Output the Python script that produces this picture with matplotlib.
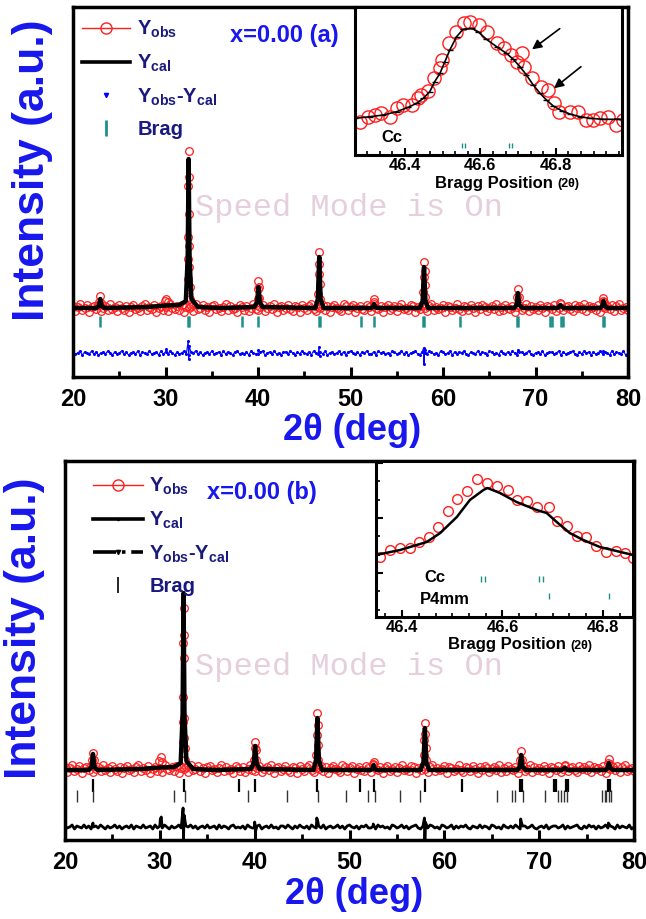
import numpy as np
import matplotlib
matplotlib.use("Agg")
import matplotlib.pyplot as plt
from matplotlib.lines import Line2D
from matplotlib.ticker import MultipleLocator, FixedLocator

plt.rcParams['font.family'] = ['Liberation Sans', 'DejaVu Sans']
plt.rcParams['font.weight'] = 'bold'
plt.rcParams['mathtext.fontset'] = 'custom'
plt.rcParams['mathtext.bf'] = 'Liberation Sans:bold'
plt.rcParams['mathtext.rm'] = 'Liberation Sans:bold'
plt.rcParams['mathtext.it'] = 'Liberation Sans:bold'

# ---------------- data ----------------
x_ticks = [20, 30, 40, 50, 60, 70, 80]
inset_ticks = [46.4, 46.6, 46.8]

# observed background scatter (deviation from background, 0.25 deg steps 20..80)
obs_noise = [2,-3,1,4,-2,0,3,-4,1,2,-1,3,-3,0,2,-2,4,-1,1,-3,
             3,0,-2,2,-4,1,3,-1,0,-3,2,4,-2,1,-1,3,-4,0,2,-2,
             1,-3,4,0,-1,2,-2,3,-4,1,0,2,-3,4,-1,0,3,-2,1,-4,
             2,3,-1,0,-3,1,4,-2,2,-1,0,-4,3,1,-2,2,-3,0,4,-1,
             -2,1,3,-3,0,2,-1,4,-4,1,2,-2,0,3,-1,-3,2,1,-4,3,
             0,-2,2,4,-1,-3,1,0,3,-2,2,-4,1,3,0,-1,-3,4,2,-2,
             1,3,-4,0,2,-1,-2,3,1,-3,4,0,-1,2,-4,1,3,-2,0,2,
             -3,1,4,-1,0,-2,3,2,-4,1,-1,3,0,-3,2,4,-2,1,-1,0,
             3,-4,2,1,-2,0,4,-1,-3,2,1,-2,3,0,-4,2,-1,3,1,-3,
             0,2,-1,4,-3,1,-2,3,0,-1,2,-4,1,3,-2,0,4,-3,2,-1,
             1,-2,3,0,-4,2,1,-1,3,-3,0,4,-2,1,2,-1,-3,3,0,2,
             -1,4,-3,2,0,1,-2,3,-4,1,0,2,-1,3,-3,2,4,-2,0,1,
             -2]
diff_noise = [1,-1,0,2,-2,1,0,-1,2,-1,1,-2,0,1,-1,2,0,-2,1,-1,
              0,2,-1,1,-2,0,1,-1,2,-2,1,0,-1,2,-1,0,1,-2,2,-1,
              1,-1,2,0,-2,1,-1,0,2,-1,-2,1,0,2,-1,1,-2,0,1,-1,
              2,-1,0,1,-2,2,-1,1,0,-2,1,2,-1,0,-1,1,-2,2,0,-1,
              -1,1,2,-2,0,1,-1,2,-1,0,-2,1,1,-1,2,0,-2,1,-1,2,
              0,-1,1,-2,2,0,-1,1,-1,2,-2,0,1,-1,0,2,-1,1,-2,1,
              2,0,-1,1,-2,1,0,2,-1,-1,1,-2,2,0,1,-1,0,-2,2,1,
              -1,0,2,-1,1,-2,0,1,2,-1,-2,1,0,-1,2,1,-1,0,-2,2,
              1,-1,0,2,-2,1,-1,1,0,2,-1,-2,1,0,-1,2,-1,1,0,-2,
              2,1,-1,0,-2,2,0,-1,1,-1,2,0,-2,1,1,-1,0,2,-1,-2,
              0,1,-1,2,-2,0,1,1,-1,0,2,-2,1,-1,0,1,2,-1,-2,1,
              -1,2,0,1,-2,1,-1,0,2,-1,1,0,-2,2,-1,1,0,-1,2,-2,
              0]

# ---- panel (a) ----
bkg_obs_a = 69
obs_pk_a_x = [22.85, 22.95, 23.05, 29.95, 30.1, 30.25,
              32.40, 32.42, 32.44, 32.46, 32.48, 32.50, 32.52, 32.54, 32.56, 32.58, 32.61, 32.66,
              39.95, 40.0, 40.05, 40.1, 40.15, 46.5, 46.55, 46.6, 46.64, 46.68, 46.72,
              52.5, 52.58, 57.85, 57.9, 57.95, 58.0, 58.05, 58.1, 67.98, 68.1, 68.2,
              72.7, 77.25, 77.35, 77.45]
obs_pk_a_y = [75, 81, 74, 76, 78, 75,
              80, 98, 118, 140, 191, 226, 200, 163, 131, 110, 90, 78,
              78, 88, 96, 90, 79, 83, 103, 125, 113, 93, 78,
              75, 78, 85, 100, 115, 106, 92, 80, 80, 88, 80,
              74, 76, 79, 75]
cal_a_x = [20, 22.5, 22.8, 22.95, 23.1, 23.4, 28, 30, 31.5, 32.2, 32.4, 32.5, 32.6, 32.8,
           33.5, 36, 39.6, 39.9, 40.05, 40.2, 40.5, 46.2, 46.47, 46.62, 46.77, 47.1,
           52.2, 52.45, 52.55, 52.65, 52.9, 57.5, 57.8, 57.95, 58.1, 58.4, 67.7, 67.95,
           68.1, 68.25, 68.6, 72.4, 72.7, 73.0, 77.0, 77.22, 77.35, 77.5, 77.8, 80]
cal_a_y = [69, 69, 71, 78, 71, 69, 70, 71.5, 72, 76, 120, 218, 120, 78,
           70, 69, 70, 75, 90, 75, 70, 69, 78, 120, 78, 69,
           69, 70, 73, 70, 69, 69, 76, 110, 76, 69, 69, 72,
           84, 72, 69, 69, 72, 69, 69, 71, 76, 71, 69, 69]
diff_base_a = 24
diff_spk_a_x = [30.1, 32.45, 32.5, 32.55, 40.05, 46.6, 46.65, 57.9, 57.95, 58.0, 68.1, 77.35]
diff_spk_a_y = [28, 36, 18, 31, 27, 30, 21, 29, 13, 27, 27, 26]
brag_a = [22.9, 32.45, 32.55, 38.3, 40.0, 46.55, 46.67, 51.1, 52.5, 57.85, 57.95, 61.85,
          67.95, 68.15, 71.6, 71.8, 72.8, 73.0, 77.25, 77.45]

# ---- panel (b) ----
bkg_obs_b = 71
obs_pk_b_x = [22.85, 22.95, 23.05, 29.95, 30.1, 30.25,
              32.40, 32.42, 32.44, 32.46, 32.48, 32.50, 32.52, 32.54, 32.56, 32.58, 32.61, 32.66,
              39.95, 40.0, 40.05, 40.1, 40.15, 46.5, 46.55, 46.6, 46.64, 46.68, 46.72,
              52.5, 52.58, 57.85, 57.9, 57.95, 58.0, 58.05, 58.1, 67.98, 68.1, 68.2,
              72.75, 77.25, 77.35, 77.45]
obs_pk_b_y = [80, 87, 80, 79, 83, 78,
              87, 98, 118, 143, 197, 232, 205, 182, 122, 102, 92, 80,
              80, 92, 98, 90, 80, 85, 105, 127, 115, 95, 80,
              76, 78, 85, 100, 117, 106, 92, 80, 80, 89, 80,
              74, 77, 81, 76]
cal_b_x = cal_a_x
cal_b_y = [70, 70, 73, 86, 73, 70, 71, 72.5, 73, 77, 125, 247, 125, 79,
           71, 70, 71, 77, 94, 77, 71, 70, 80, 122, 80, 70,
           70, 71, 75, 71, 70, 70, 78, 112, 78, 70, 70, 73,
           85, 73, 70, 70, 72, 70, 70, 72, 77, 72, 70, 70]
diff_base_b = 13
diff_spk_b_x = [22.95, 30.05, 30.15, 32.45, 32.5, 32.55, 40.0, 40.1, 46.55, 46.65,
                52.5, 57.9, 57.95, 58.0, 68.05, 68.15, 77.3]
diff_spk_b_y = [17, 21, 23, 32, 0, 25, 18, 9, 22, 19, 16, 22, 0, 18, 21, 17, 17]
brag_b_cc = [22.95, 32.55, 38.3, 40.0, 46.6, 51.1, 52.6, 57.95, 61.85, 68.0, 68.2,
             71.55, 71.75, 72.8, 73.0, 77.3, 77.5]
brag_b_p4 = [21.3, 22.9, 31.5, 32.65, 39.3, 43.4, 46.7, 49.6, 52.0, 52.7, 55.3, 57.4,
             65.6, 67.1, 67.5, 68.3, 70.6, 72.0, 72.3, 72.6, 72.9, 76.6, 76.9, 77.1, 77.4, 77.6]

# ---- inset (a) ----
ins_a_obs_x = [46.28, 46.302, 46.32, 46.338, 46.36, 46.378, 46.396, 46.418, 46.436, 46.444,
               46.462, 46.476, 46.493, 46.498, 46.516, 46.536, 46.556, 46.573, 46.596, 46.618,
               46.644, 46.662, 46.68, 46.698, 46.711, 46.716, 46.738, 46.76, 46.778, 46.796,
               46.809, 46.836, 46.858, 46.88, 46.898, 46.916, 46.938, 46.96, 46.978]
ins_a_obs_y = [33, 38, 40, 42, 38, 47, 50, 50, 57, 60,
               64, 77, 87, 95, 112, 123, 132, 133, 130, 123,
               112, 107, 100, 93, 102, 88, 77, 68, 65, 52,
               43, 43, 43, 35, 35, 37, 38, 30, 35]
ins_a_cal_x = [46.269, 46.307, 46.343, 46.378, 46.409, 46.431, 46.449, 46.466, 46.479, 46.493,
               46.506, 46.519, 46.537, 46.554, 46.577, 46.594, 46.616, 46.643, 46.669, 46.687,
               46.705, 46.722, 46.74, 46.758, 46.775, 46.793, 46.815, 46.837, 46.864, 46.89,
               46.925, 46.961, 46.983]
ins_a_cal_y = [36.7, 38.3, 40, 43.3, 47.7, 51.7, 56.7, 63.3, 73.3, 81.7,
               93.3, 105, 118.3, 125.7, 126.7, 123.3, 115.7, 108.3, 101.7, 95.7,
               88.3, 80, 70, 61.7, 55, 49, 44.3, 41, 38.3, 36.7,
               35.7, 35.7, 35.7]
ins_a_brag = [46.552, 46.560, 46.675, 46.683]

# ---- inset (b) ----
ins_b_obs_x = [46.355, 46.375, 46.395, 46.415, 46.434, 46.454, 46.472, 46.492, 46.510, 46.530,
               46.550, 46.570, 46.590, 46.610, 46.629, 46.649, 46.669, 46.693, 46.709, 46.728,
               46.748, 46.766, 46.786, 46.806, 46.826, 46.844, 46.860]
ins_b_obs_y = [60, 67, 69, 69, 75, 80, 90, 106, 118, 126,
               138, 134, 131, 127, 117, 116, 110, 110, 96, 91,
               81, 80, 71, 65, 66, 64, 59]
ins_b_cal_x = [46.348, 46.396, 46.449, 46.476, 46.509, 46.535, 46.562, 46.570, 46.595,
               46.628, 46.668, 46.688, 46.708, 46.734, 46.761, 46.794, 46.827, 46.860]
ins_b_cal_y = [62, 67, 75, 84, 100, 117, 127, 129, 124, 115, 107, 104, 95, 84, 77, 70, 66, 62]
ins_b_brag_cc = [46.557, 46.565, 46.672, 46.680]
ins_b_brag_p4 = [46.693, 46.812]

# ---------------- styling ----------------
W, H = 646, 919
RED = '#ff1e1e'
TEAL = '#1f8f8a'
NAVY = '#1a1a7e'
BLUE = '#1717ee'
WM = '#e6cfdc'


def px_rect(l, t, r, b):
    return [l / W, 1 - b / H, (r - l) / W, (b - t) / H]


fig = plt.figure(figsize=(W / 100, H / 100), dpi=100)


def style_main(ax, ylim):
    ax.set_xlim(20, 80)
    ax.set_ylim(*ylim)
    for s in ax.spines.values():
        s.set_linewidth(2.5)
    ax.xaxis.set_major_locator(FixedLocator(x_ticks))
    ax.xaxis.set_minor_locator(MultipleLocator(5))
    ax.tick_params(axis='x', which='major', direction='in', length=7, width=2.2,
                   pad=8, top=False, labelsize=17)
    ax.tick_params(axis='x', which='minor', direction='in', length=4, width=2, top=False)
    ax.set_yticks([])
    for lab in ax.get_xticklabels():
        lab.set_fontweight('bold')


def grid_for(n):
    return np.linspace(20, 80, n)


def draw_obs(ax, bkg, pkx, pky, size=5.5):
    g = grid_for(len(obs_noise))
    yb = bkg + np.asarray(obs_noise, float)
    ax.plot(g, yb, color=RED, lw=0.6, zorder=2)
    x = np.concatenate([g, pkx])
    y = np.concatenate([yb, pky])
    ax.plot(x, y, ls='none', marker='o', ms=size, mfc='none', mec=RED, mew=0.9, zorder=2)


def draw_diff(ax, base, spx, spy, color, lw, marker):
    g = grid_for(len(diff_noise))
    x = np.concatenate([g, spx])
    y = np.concatenate([base + np.asarray(diff_noise, float), spy])
    o = np.argsort(x, kind='stable')
    ax.plot(x[o], y[o], color=color, lw=lw, marker=marker, ms=2.4, zorder=2)


labels = [r'$\mathbf{Y_{obs}}$', r'$\mathbf{Y_{cal}}$',
          r'$\mathbf{Y_{obs}}$-$\mathbf{Y_{cal}}$', 'Brag']

# ================= panel (a) =================
ax_a = fig.add_axes(px_rect(73, 7, 628, 377))
style_main(ax_a, (0, 370))
draw_obs(ax_a, bkg_obs_a, obs_pk_a_x, obs_pk_a_y)
ax_a.plot(cal_a_x, cal_a_y, color='k', lw=3.2, zorder=3)
draw_diff(ax_a, diff_base_a, diff_spk_a_x, diff_spk_a_y, 'blue', 0.8, '.')
ax_a.vlines(brag_a, 50, 61, color=TEAL, lw=1.8, zorder=2)
ax_a.text(0.283, 0.924, 'x=0.00 (a)', transform=ax_a.transAxes, color=BLUE,
          fontsize=17, fontweight='bold', va='center', ha='left')
ax_a.text(0.497, 0.457, 'Speed Mode is On', transform=ax_a.transAxes, color=WM,
          fontsize=23, fontweight='normal', family=['Liberation Mono', 'DejaVu Sans Mono'],
          ha='center', va='center', zorder=1)
h_a = [Line2D([], [], color=RED, lw=1.0, marker='o', ms=8, mfc='none', mec=RED),
       Line2D([], [], color='k', lw=2.6),
       Line2D([], [], ls='none', marker='v', color='blue', ms=3),
       Line2D([], [], ls='none', marker='|', color=TEAL, ms=11, mew=2)]
ax_a.legend(h_a, labels, loc='upper left', bbox_to_anchor=(0.016, 0.968),
            frameon=False, handlelength=2.4, handletextpad=0.35,
            labelspacing=0.62, borderaxespad=0, borderpad=0, numpoints=1,
            labelcolor=NAVY, prop={'weight': 'bold', 'size': 14.5})

# ================= panel (b) =================
ax_b = fig.add_axes(px_rect(65, 461, 634, 840))
style_main(ax_b, (0, 379))
draw_obs(ax_b, bkg_obs_b, obs_pk_b_x, obs_pk_b_y)
ax_b.plot(cal_b_x, cal_b_y, color='k', lw=3.2, zorder=3)
draw_diff(ax_b, diff_base_b, diff_spk_b_x, diff_spk_b_y, 'k', 2.0, None)
ax_b.vlines(brag_b_cc, 48, 61, color='k', lw=1.6, zorder=2)
ax_b.vlines(brag_b_p4, 38, 50, color='#333333', lw=1.0, zorder=2)
ax_b.text(0.25, 0.916, 'x=0.00 (b)', transform=ax_b.transAxes, color=BLUE,
          fontsize=17, fontweight='bold', va='center', ha='left')
ax_b.text(0.499, 0.456, 'Speed Mode is On', transform=ax_b.transAxes, color=WM,
          fontsize=23, fontweight='normal', family=['Liberation Mono', 'DejaVu Sans Mono'],
          ha='center', va='center', zorder=1)
h_b = [Line2D([], [], color=RED, lw=1.0, marker='o', ms=8, mfc='none', mec=RED),
       Line2D([], [], color='k', lw=2.6, marker='.', ms=3),
       Line2D([], [], color='k', lw=2.6, ls='-.', marker='v', ms=3),
       Line2D([], [], ls='none', marker='|', color='k', ms=11, mew=1.2)]
ax_b.legend(h_b, labels, loc='upper left', bbox_to_anchor=(0.049, 0.961),
            frameon=False, handlelength=2.5, handletextpad=0.3,
            labelspacing=0.62, borderaxespad=0, borderpad=0, numpoints=1,
            labelcolor=NAVY, prop={'weight': 'bold', 'size': 14.5})


def style_inset(ax, xlim, ylim, left_ticks=None):
    ax.set_xlim(*xlim)
    ax.set_ylim(*ylim)
    ax.set_facecolor('white')
    for s in ax.spines.values():
        s.set_linewidth(2.2)
    ax.xaxis.set_major_locator(FixedLocator(inset_ticks))
    ax.xaxis.set_minor_locator(MultipleLocator(0.2 / 6))
    ax.tick_params(axis='x', which='major', direction='in', length=5, width=1.5, pad=2,
                   labelsize=12)
    ax.tick_params(axis='x', which='minor', direction='in', length=3, width=1.2)
    if left_ticks is None:
        ax.set_yticks([])
    else:
        ax.yaxis.set_major_locator(FixedLocator(left_ticks[0]))
        ax.yaxis.set_minor_locator(FixedLocator(left_ticks[1]))
        ax.tick_params(axis='y', which='major', direction='in', length=5, width=1.5,
                       labelleft=False)
        ax.tick_params(axis='y', which='minor', direction='in', length=3, width=1.2)
    for lab in ax.get_xticklabels():
        lab.set_fontweight('bold')


# ================= inset (a) =================
in_a = fig.add_axes(px_rect(355, 7, 622, 155))
style_inset(in_a, (46.268, 46.975), (0, 148))
in_a.plot(ins_a_obs_x, ins_a_obs_y, ls='none', marker='o', ms=9.5, mfc='none',
          mec=RED, mew=1.0, zorder=2)
in_a.plot(ins_a_cal_x, ins_a_cal_y, color='k', lw=1.2, marker='_', ms=4, mew=1.0, zorder=3)
in_a.vlines(ins_a_brag, 7, 12, color=TEAL, lw=1.0)
in_a.text(0.10, 18, 'Cc', transform=in_a.get_yaxis_transform(), fontsize=12,
          fontweight='bold', va='center', ha='left')
in_a.annotate('', xy=(46.731, 104), xytext=(46.816, 128),
              arrowprops=dict(arrowstyle='-|>', color='k', lw=1.2, mutation_scale=14))
in_a.annotate('', xy=(46.789, 65), xytext=(46.872, 90),
              arrowprops=dict(arrowstyle='-|>', color='k', lw=1.2, mutation_scale=14))
fig.text(553 / W, 1 - 183 / H, 'Bragg Position', ha='right', va='center',
         fontsize=12, fontweight='bold')
fig.text(557 / W, 1 - 184 / H, '(2θ)', ha='left', va='center', fontsize=9,
         fontweight='bold')

# ================= inset (b) =================
in_b = fig.add_axes(px_rect(376, 461, 633, 617))
style_inset(in_b, (46.348, 46.86), (0, 156),
            left_ticks=([44, 99, 154], [7.3, 25.7, 62.3, 80.7, 117.3, 135.7]))
in_b.plot(ins_b_obs_x, ins_b_obs_y, ls='none', marker='o', ms=7, mfc='none',
          mec=RED, mew=1.0, zorder=2)
in_b.plot(ins_b_cal_x, ins_b_cal_y, color='k', lw=1.8, zorder=3)
in_b.vlines(ins_b_brag_cc, 35, 41, color=TEAL, lw=1.0)
in_b.vlines(ins_b_brag_p4, 18, 24, color=TEAL, lw=1.0)
in_b.text(0.19, 40, 'Cc', transform=in_b.get_yaxis_transform(), fontsize=12,
          fontweight='bold', va='center', ha='left')
in_b.text(0.17, 17, 'P4mm', transform=in_b.get_yaxis_transform(), fontsize=12,
          fontweight='bold', va='center', ha='left')
fig.text(566 / W, 1 - 645 / H, 'Bragg Position', ha='right', va='center',
         fontsize=12, fontweight='bold')
fig.text(570 / W, 1 - 646 / H, '(2θ)', ha='left', va='center', fontsize=9,
         fontweight='bold')

# ================= axis titles =================
fig.text(33 / W, 1 - 170 / H, 'Intensity (a.u.)', rotation=90, ha='center', va='center',
         color=BLUE, fontsize=32, fontweight='bold')
fig.text(25 / W, 1 - 628 / H, 'Intensity (a.u.)', rotation=90, ha='center', va='center',
         color=BLUE, fontsize=32, fontweight='bold')
fig.text(352 / W, 1 - 430 / H, '2θ (deg)', ha='center', va='center',
         color=BLUE, fontsize=26, fontweight='bold')
fig.text(354 / W, 1 - 895 / H, '2θ (deg)', ha='center', va='center',
         color=BLUE, fontsize=26, fontweight='bold')

fig.savefig('out.png', dpi=100)
